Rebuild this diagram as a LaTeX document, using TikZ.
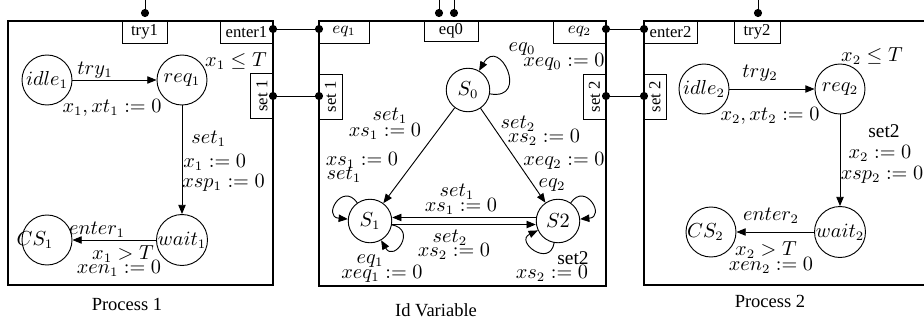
\documentclass[tikz,border=0pt]{standalone}
\usepackage{fontspec}
\setmainfont{Liberation Serif}
\usetikzlibrary{arrows.meta}

\tikzset{
  state/.style={circle,draw,line width=0.5pt,minimum size=27pt,inner sep=0pt,font=\fontsize{10.5}{12}\selectfont},
  idstate/.style={state,minimum size=23.5pt},
  port/.style={draw,line width=0.5pt,minimum height=11.9pt,inner sep=0pt,font=\small},
  sideport/.style={port,rotate=90,minimum width=24.3pt,minimum height=12.4pt},
  pin/.style={circle,fill,inner sep=0pt,minimum size=4.4pt},
  trans/.style={-{Triangle[length=5pt,width=4pt]},line width=0.5pt},
  wire/.style={line width=0.5pt},
  procbox/.style={line width=0.7pt},
  lbl/.style={inner sep=0pt,font=\fontsize{10.5}{12}\selectfont},
}

\begin{document}
\begin{tikzpicture}[x=0.54pt,y=0.54pt]
  \useasboundingbox (0,0) rectangle (924,-327);

  % process 1
  \draw[procbox] (8,-21) rectangle (273,-285);
  \node[port,minimum width=24.3pt] (try1) at (144.5,-32) {try1};
  \node[port,minimum width=28.6pt] (ent1) at (246.5,-32) {enter1};
  \node[sideport] (set1p) at (262,-96) {set 1};
  \node[state] (idle1) at (47,-80) {$idle_1$};
  \node[state] (req1) at (182,-80) {$req_1$};
  \node[state] (wait1) at (182,-240) {$wait_1$};
  \node[state] (CS1) at (47,-240) {\hspace*{-13pt}$CS_1$};
  \draw[trans] (idle1) -- (req1);
  \draw[trans] (req1) -- (wait1);
  \draw[trans] (wait1) -- (CS1);
  \node[lbl] at (95,-70) {$try_1$};
  \node[lbl] at (112,-108) {$x_1, xt_1 := 0$};
  \node[lbl] at (236,-61) {$x_1 \leq T$};
  \node[lbl,anchor=west] at (191,-139) {$set_1$};
  \node[lbl,anchor=west] at (183,-162) {$x_1 := 0$};
  \node[lbl,anchor=west] at (182,-183) {$xsp_1 := 0$};
  \node[lbl] at (97,-230) {$enter_1$};
  \node[lbl] at (123,-254) {$x_1 > T$};
  \node[lbl] at (119,-268) {$xen_1 := 0$};
  \node at (127,-304) {Process 1};

  % id variable
  \draw[procbox] (319,-21) rectangle (606,-286);
  \node[port,minimum width=27pt] (eq1) at (344,-32) {$eq_1$};
  \node[port,minimum width=29.2pt,minimum height=10.8pt] (eqz) at (451,-31) {eq0};
  \node[port,minimum width=28.6pt] (eq2) at (579.5,-32) {$eq_2$};
  \node[sideport] (set1i) at (330.5,-96.5) {set 1};
  \node[sideport] (set2i) at (594.5,-96.5) {set 2};
  \node[idstate] (S0) at (468,-90) {$S_0$};
  \node[idstate] (S1) at (370,-221) {$S_1$};
  \node[idstate] (S2) at (558,-221) {$S2$};
  \draw[trans] (S0) -- (S1);
  \draw[trans] (S0) -- (S2);
  \draw[trans] ([yshift=1.9pt]S2.west) -- ([yshift=1.9pt]S1.east);
  \draw[trans] ([yshift=-1.9pt]S1.east) -- ([yshift=-1.9pt]S2.west);
  \draw[trans] (S0.-10) .. controls +(-10:22pt) and +(60:22pt) .. (S0.60);
  \draw[trans] (S1.125) .. controls +(125:14pt) and +(175:14pt) .. (S1.175);
  \draw[trans] (S1.-10) .. controls +(-10:14pt) and +(-60:14pt) .. (S1.-60);
  \draw[trans] (S2.55) .. controls +(55:14pt) and +(5:14pt) .. (S2.5);
  \draw[trans] (S2.-100) .. controls +(-100:14pt) and +(-155:14pt) .. (S2.-155);
  \node[lbl] at (522,-49) {$eq_0$};
  \node[lbl] at (564,-62) {$xeq_0 := 0$};
  \node[lbl] at (390,-116) {$set_1$};
  \node[lbl] at (385,-131) {$xs_1 := 0$};
  \node[lbl] at (518,-124) {$set_2$};
  \node[lbl] at (544,-137) {$xs_2 := 0$};
  \node[lbl] at (362,-160) {$xs_1 := 0$};
  \node[lbl] at (564,-161) {$xeq_2 := 0$};
  \node[lbl] at (344,-175) {$set_1$};
  \node[lbl] at (552,-185) {$eq_2$};
  \node[lbl] at (457,-192) {$set_1$};
  \node[lbl] at (461,-206) {$xs_1 := 0$};
  \node[lbl] at (450,-238) {$set_2$};
  \node[lbl] at (454,-251) {$xs_2 := 0$};
  \node[lbl] at (370,-261) {$eq_1$};
  \node[lbl] at (382,-274) {$xeq_1 := 0$};
  \node[lbl] at (573,-258) {set2};
  \node[lbl] at (552,-273) {$xs_2 := 0$};
  \node at (436,-310) {Id Variable};

  % process 2
  \draw[procbox] (924,-21) -- (644,-21) -- (644,-285) -- (924,-285);
  \node[port,minimum width=28.6pt] (ent2) at (670.5,-32) {enter2};
  \node[port,minimum width=24.8pt] (try2) at (757,-32) {try2};
  \node[sideport] (set2p) at (655,-96.5) {set 2};
  \node[state] (idle2) at (704,-89) {$idle_2$};
  \node[state] (req2) at (840,-89) {$req_2$};
  \node[state] (wait2) at (840,-232) {$wait_2$};
  \node[state] (CS2) at (711,-232) {\hspace*{-6pt}$CS_2$};
  \draw[trans] (idle2) -- (req2);
  \draw[trans] (req2) -- (wait2);
  \draw[trans] (wait2) -- (CS2);
  \node[lbl] at (760,-73) {$try_2$};
  \node[lbl] at (770,-116) {$x_2, xt_2 := 0$};
  \node[lbl] at (872,-56) {$x_2 \leq T$};
  \node[lbl] at (884,-131) {set2};
  \node[lbl] at (880,-153) {$x_2 := 0$};
  \node[lbl] at (882,-175) {$xsp_2 := 0$};
  \node[lbl] at (771,-216) {$enter_2$};
  \node[lbl] at (766,-250) {$x_2 > T$};
  \node[lbl] at (771,-265) {$xen_2 := 0$};
  \node at (770,-301) {Process 2};

  % pins and wires
  \node[pin] (try1pin) at (145,-13) {};
  \node[pin] (ent1pin) at (273,-29) {};
  \node[pin] (set1ppin) at (273,-96) {};
  \node[pin] (eq1pin) at (319,-29) {};
  \node[pin] (set1ipin) at (319,-96) {};
  \node[pin] (eqzpinA) at (439,-13) {};
  \node[pin] (eqzpinB) at (454,-13) {};
  \node[pin] (eq2pin) at (606,-29) {};
  \node[pin] (set2ipin) at (606,-96) {};
  \node[pin] (ent2pin) at (644,-29) {};
  \node[pin] (set2ppin) at (644,-96) {};
  \node[pin] (try2pin) at (758,-13) {};
  \coordinate (try1top) at (145,0);
  \coordinate (eqzAtop) at (439,0);
  \coordinate (eqzBtop) at (454,0);
  \coordinate (try2top) at (758,0);
  \draw[wire] (try1pin) -- (try1top);
  \draw[wire] (eqzpinA) -- (eqzAtop);
  \draw[wire] (eqzpinB) -- (eqzBtop);
  \draw[wire] (try2pin) -- (try2top);
  \draw[wire] (ent1pin) -- (eq1pin);
  \draw[wire] (set1ppin) -- (set1ipin);
  \draw[wire] (eq2pin) -- (ent2pin);
  \draw[wire] (set2ipin) -- (set2ppin);
\end{tikzpicture}
\end{document}
